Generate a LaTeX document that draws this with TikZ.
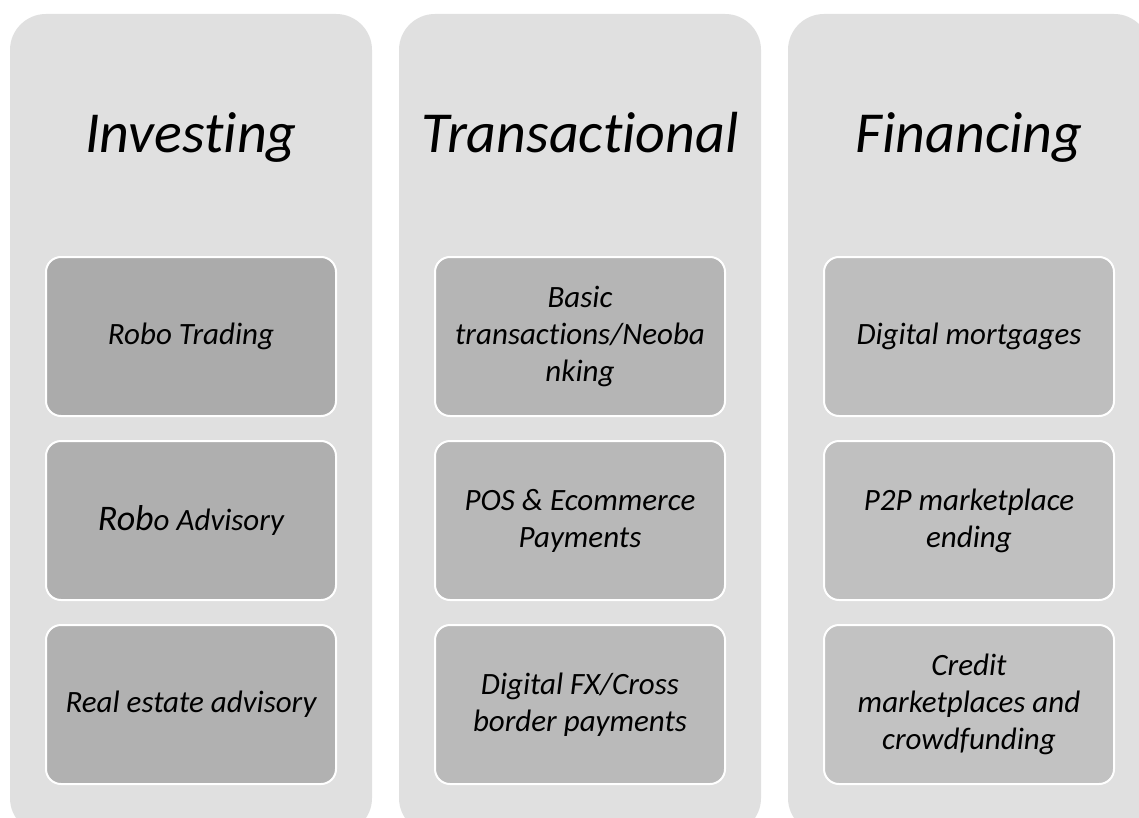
\documentclass[tikz,border=0pt]{standalone}
\usepackage{fontspec}
\setmainfont[Ligatures={NoCommon}]{Carlito}
\definecolor{panelbg}{HTML}{E0E0E0}
\definecolor{boxA1}{HTML}{ABABAB}
\definecolor{boxA2}{HTML}{AFAFAF}
\definecolor{boxA3}{HTML}{B1B1B1}
\definecolor{boxB1}{HTML}{B5B5B5}
\definecolor{boxB2}{HTML}{B8B8B8}
\definecolor{boxB3}{HTML}{BABABA}
\definecolor{boxC1}{HTML}{BEBEBE}
\definecolor{boxC2}{HTML}{C0C0C0}
\definecolor{boxC3}{HTML}{C2C2C2}
\tikzset{
  panel/.style={fill=panelbg, rounded corners=36pt},
  heading/.style={anchor=base, font=\fontsize{58}{70}\selectfont\itshape},
  item/.style={draw=white, line width=2pt, rounded corners=15pt,
    minimum width=290pt, minimum height=159pt, inner sep=0pt,
    align=center, font=\fontsize{31}{37}\selectfont\itshape}
}
\begin{document}
\begin{tikzpicture}[x=1pt, y=-1pt]
  \useasboundingbox (0,0) rectangle (1139,818);
  \clip (0,0) rectangle (1139,818);
  \fill[white] (0,0) rectangle (1139,818);

  % three columns
  \fill[panel] (10,14) rectangle (372,834);
  \fill[panel] (399,14) rectangle (761,834);
  \fill[panel] (788,14) rectangle (1150,834);

  % headings
  \node[heading] (hInv) at (191,153) {Investing};
  \node[heading] (hTra) at (580,153) {Transactional};
  \node[heading] (hFin) at (969,153) {Financing};

  % Investing
  \node[item, fill=boxA1] (i1) at (191,336.5) {Robo Trading};
  \node[item, fill=boxA2] (i2) at (191,520.5) {{\fontsize{36}{40}\selectfont Rob}o Advisory};
  \node[item, fill=boxA3] (i3) at (191,704.5) {Real estate advisory};

  % Transactional
  \node[item, fill=boxB1] (t1) at (580,336.5) {Basic\\transactions/Neoba\\nking};
  \node[item, fill=boxB2] (t2) at (580,520.5) {POS \& Ecommerce\\Payments};
  \node[item, fill=boxB3] (t3) at (580,704.5) {Digital FX/Cross\\border payments};

  % Financing
  \node[item, fill=boxC1] (f1) at (969,336.5) {Digital mortgages};
  \node[item, fill=boxC2] (f2) at (969,520.5) {P2P marketplace\\ending};
  \node[item, fill=boxC3] (f3) at (969,704.5) {Credit\\marketplaces and\\crowdfunding};
\end{tikzpicture}
\end{document}
